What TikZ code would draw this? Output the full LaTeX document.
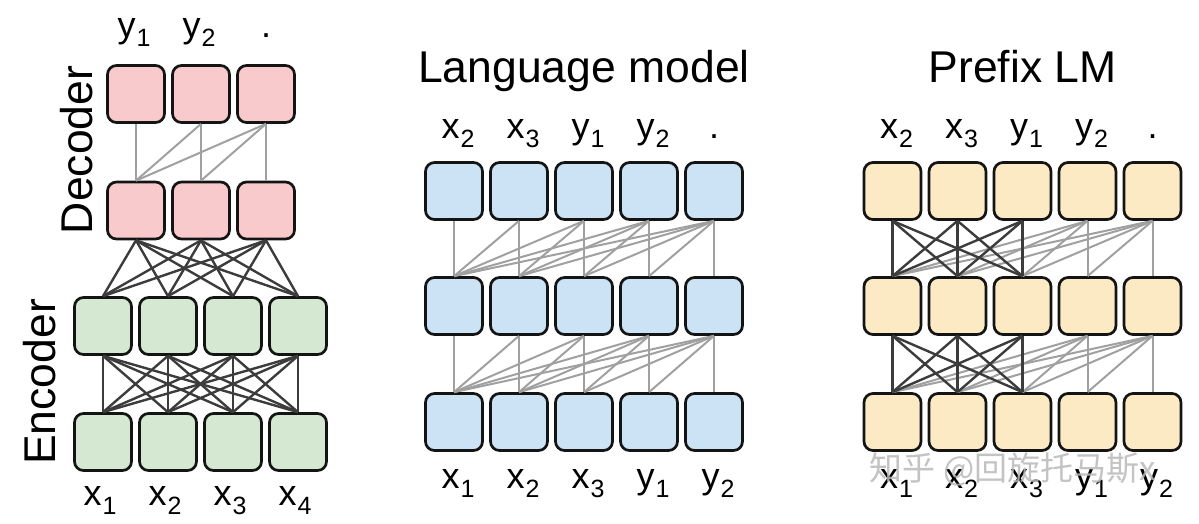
\documentclass[tikz,border=0pt]{standalone}
\usepackage{fontspec}
\setmainfont{Liberation Sans}
\newfontfamily\cjkfont{Noto Sans CJK SC}
\definecolor{pinkfill}{HTML}{F8CACC}
\definecolor{greenfill}{HTML}{D4E8D2}
\definecolor{bluefill}{HTML}{CBE3F5}
\definecolor{yellowfill}{HTML}{FCEAC4}
\definecolor{darkline}{HTML}{3C3C3C}
\definecolor{lightline}{HTML}{A0A0A0}
\newcommand\lbl[2]{#1\kern1pt\raisebox{-9.5pt}{\fontsize{25}{25}\selectfont #2}}
\tikzset{
  cell/.style={draw=black!92, line width=2.7pt, rounded corners=9pt,
    minimum width=57pt, minimum height=57pt, inner sep=0pt},
  dk/.style={draw=darkline, line width=2.4pt},
  lt/.style={draw=lightline, line width=2pt},
  tok/.style={font=\fontsize{36}{36}\selectfont, inner sep=0pt, anchor=base},
  ttl/.style={font=\fontsize{44.5}{44.5}\selectfont, inner sep=0pt, anchor=base},
}
\begin{document}
\begin{tikzpicture}[x=1pt,y=-1pt]
\useasboundingbox (0,0) rectangle (1199,523);
% ---------------- Left panel: encoder-decoder ----------------
\foreach \i/\x in {1/136,2/201,3/266}{
  \node[cell, fill=pinkfill] (dT\i) at (\x,94) {};
  \node[cell, fill=pinkfill] (dB\i) at (\x,210.5) {};
}
\foreach \i/\x in {1/103,2/168,3/233,4/298}{
  \node[cell, fill=greenfill] (eT\i) at (\x,326) {};
  \node[cell, fill=greenfill] (eB\i) at (\x,442) {};
}
% decoder causal
\foreach \i in {1,2,3}{\foreach \j in {1,...,\i}{
  \draw[lt] (dT\i.south) -- (dB\j.north);}}
% encoder to decoder
\foreach \i in {1,2,3}{\foreach \j in {1,2,3,4}{
  \draw[dk] (dB\i.south) -- (eT\j.north);}}
% encoder full
\foreach \i in {1,2,3,4}{\foreach \j in {1,2,3,4}{
  \draw[dk] (eT\i.south) -- (eB\j.north);}}
\node[tok] (ly1) at (134,37) {\lbl{y}{1}};
\node[tok] (ly2) at (199,37) {\lbl{y}{2}};
\node[tok] (ly3) at (266,37) {.};
\node[tok] (lx1) at (100,505) {\lbl{x}{1}};
\node[tok] (lx2) at (165,505) {\lbl{x}{2}};
\node[tok] (lx3) at (230,505) {\lbl{x}{3}};
\node[tok] (lx4) at (295,505) {\lbl{x}{4}};
\node[ttl, rotate=90] (dec) at (92,150) {Decoder};
\node[ttl, rotate=90] (enc) at (55,382) {Encoder};
% ---------------- Middle panel: language model ----------------
\foreach \r/\y in {1/191,2/306,3/422}{
  \foreach \c/\x in {1/454,2/519,3/584,4/649,5/714}{
    \node[cell, fill=bluefill] (m\r\c) at (\x,\y) {};
}}
\foreach \r/\s in {1/2,2/3}{
  \foreach \i in {1,...,5}{\foreach \j in {1,...,\i}{
    \draw[lt] (m\r\i.south) -- (m\s\j.north);}}}
\node[ttl] (mtitle) at (584,82) {Language model};
\node[tok] (mt1) at (458,138) {\lbl{x}{2}};
\node[tok] (mt2) at (523,138) {\lbl{x}{3}};
\node[tok] (mt3) at (588,138) {\lbl{y}{1}};
\node[tok] (mt4) at (653,138) {\lbl{y}{2}};
\node[tok] (mt5) at (714,138) {.};
\node[tok] (mb1) at (458,488) {\lbl{x}{1}};
\node[tok] (mb2) at (523,488) {\lbl{x}{2}};
\node[tok] (mb3) at (588,488) {\lbl{x}{3}};
\node[tok] (mb4) at (653,488) {\lbl{y}{1}};
\node[tok] (mb5) at (718,488) {\lbl{y}{2}};
% ---------------- Right panel: prefix LM ----------------
\foreach \r/\y in {1/191,2/306,3/422}{
  \foreach \c/\x in {1/892.5,2/957.5,3/1022.5,4/1087.5,5/1152.5}{
    \node[cell, fill=yellowfill] (p\r\c) at (\x,\y) {};
}}
\foreach \r/\s in {1/2,2/3}{
  \foreach \i in {4,5}{\foreach \j in {1,...,\i}{
    \draw[lt] (p\r\i.south) -- (p\s\j.north);}}
  \foreach \i in {1,2,3}{\foreach \j in {1,2,3}{
    \draw[dk] (p\r\i.south) -- (p\s\j.north);}}
}
\node[ttl] (ptitle) at (1022.5,82) {Prefix LM};
\node[tok] (pt1) at (896.5,138) {\lbl{x}{2}};
\node[tok] (pt2) at (961.5,138) {\lbl{x}{3}};
\node[tok] (pt3) at (1026.5,138) {\lbl{y}{1}};
\node[tok] (pt4) at (1091.5,138) {\lbl{y}{2}};
\node[tok] (pt5) at (1152.5,138) {.};
\node[tok] (pb1) at (896.5,488) {\lbl{x}{1}};
\node[tok] (pb2) at (961.5,488) {\lbl{x}{2}};
\node[tok] (pb3) at (1026.5,488) {\lbl{x}{3}};
\node[tok] (pb4) at (1091.5,488) {\lbl{y}{1}};
\node[tok] (pb5) at (1156.5,488) {\lbl{y}{2}};
% watermark
\node[font=\cjkfont\fontsize{33}{33}\selectfont, text=black!28, opacity=0.85,
  inner sep=0pt] (wm) at (1013,469) {知乎 @回旋托马斯x};
\end{tikzpicture}
\end{document}
